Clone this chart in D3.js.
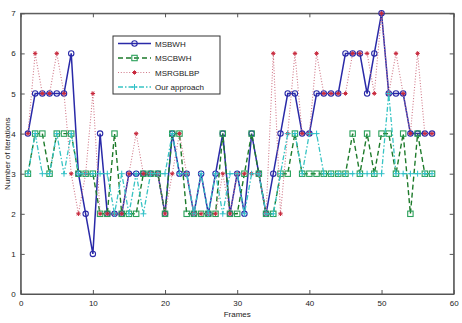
<!DOCTYPE html>
<html>
<head>
<meta charset="utf-8">
<script src="https://cdn.jsdelivr.net/npm/d3@7"></script>
<style>
  html, body { margin: 0; padding: 0; background: #fff; }
  svg { display: block; }
  text { font-family: "Liberation Sans Narrow", "Liberation Sans", Arial, sans-serif; fill: #222; }
</style>
</head>
<body>
<svg id="chart" width="462" height="323"></svg>
<script>
const frames = [1,2,3,4,5,6,7,8,9,10,11,12,13,14,15,16,17,18,19,20,21,22,23,24,25,26,27,28,29,30,31,32,33,34,35,36,37,38,39,40,41,42,43,44,45,46,47,48,49,50,51,52,53,54,55,56,57];
const msbwh    = [4,5,5,5,5,5,6,3,2,1, 4,2,2,2,3,3,3,3,3,2, 4,3,3,2,3,2,3,4,2,3, 2,4,3,2,3,4,5,5,4,4, 5,5,5,5,6,6,6,5,6,7, 5,5,5,4,4,4,4];
const mscbwh   = [3,4,4,3,4,4,4,3,3,3, 2,2,4,2,2,2,3,3,3,2, 4,4,2,2,2,2,2,4,2,2, 3,4,3,2,2,3,3,4,3,3, 3,3,3,3,3,4,3,4,3,4, 4,3,4,2,4,3,3];
const msrgblbp = [4,6,5,5,6,5,3,2,3,5, 2,2,2,2,3,4,3,3,3,2, 3,4,3,2,2,2,2,3,2,3, 3,3,3,2,6,2,4,6,4,4, 6,5,5,5,5,6,6,6,5,7, 5,6,5,4,6,4,4];
const ours     = [3,4,3,3,4,3,4,3,3,3, 3,3,2,3,2,3,2,3,3,3, 4,3,3,2,3,2,3,2,3,3, 2,3,3,2,2,3,4,4,3,4, 4,3,3,3,3,3,3,3,3,3, 5,3,3,3,3,3,3];
const seriesNames = ["MSBWH", "MSCBWH", "MSRGBLBP", "Our approach"];
const xTicks = [0,10,20,30,40,50,60];
const yTicks = [0,1,2,3,4,5,6,7];

const svg = d3.select("#chart");
const L = 20.7, R = 453.7, T = 13.3, B = 294;
const x = d3.scaleLinear().domain([0, 60]).range([L, R]);
const y = d3.scaleLinear().domain([0, 7]).range([B, T]);

svg.append("rect").attr("x", L).attr("y", T).attr("width", R - L).attr("height", B - T)
  .attr("fill", "#fff").attr("stroke", "#555").attr("stroke-width", 1);

const tickLen = 4;
const fmt = d3.format("d");
const axB = svg.append("g").attr("transform", `translate(0,${B})`)
  .call(d3.axisBottom(x).tickValues(xTicks).tickFormat(fmt).tickSizeInner(-tickLen).tickSizeOuter(0).tickPadding(6));
const axT = svg.append("g").attr("transform", `translate(0,${T})`)
  .call(d3.axisTop(x).tickValues(xTicks).tickSizeInner(-tickLen).tickSizeOuter(0).tickFormat(""));
const axL = svg.append("g").attr("transform", `translate(${L},0)`)
  .call(d3.axisLeft(y).tickValues(yTicks).tickFormat(fmt).tickSizeInner(-tickLen).tickSizeOuter(0).tickPadding(5));
const axR = svg.append("g").attr("transform", `translate(${R},0)`)
  .call(d3.axisRight(y).tickValues(yTicks).tickSizeInner(-tickLen).tickSizeOuter(0).tickFormat(""));
[axB, axT, axL, axR].forEach(a => {
  a.select(".domain").attr("stroke", "#555");
  a.selectAll(".tick line").attr("stroke", "#555");
  a.selectAll("text").attr("font-size", 8).attr("fill", "#222")
    .attr("font-family", '"Liberation Sans Narrow", "Liberation Sans", Arial, sans-serif');
});

const styles = [
  { data: msbwh, color: "#2a2aa8", dash: null, width: 1.5, marker: "circle", mcolor: "#2a2aa8" },
  { data: mscbwh, color: "#1d7a2a", dash: "5,3", width: 1.4, marker: "square", mcolor: "#2aa05a" },
  { data: msrgblbp, color: "#d07888", dash: "1,1.8", width: 1.1, marker: "star", mcolor: "#c8283c" },
  { data: ours, color: "#38c4c4", dash: "5,2,1.5,2", width: 1.3, marker: "plus", mcolor: "#30c0c8" }
];

function drawMarker(g, type, cx, cy, c) {
  if (type === "circle") {
    g.append("circle").attr("cx", cx).attr("cy", cy).attr("r", 2.7)
      .attr("fill", "none").attr("stroke", c).attr("stroke-width", 1.1);
  } else if (type === "square") {
    g.append("rect").attr("x", cx - 2.7).attr("y", cy - 2.7).attr("width", 5.4).attr("height", 5.4)
      .attr("fill", "none").attr("stroke", c).attr("stroke-width", 1.1);
  } else if (type === "star") {
    const s = 2.2;
    g.append("path").attr("d",
      `M${cx - s},${cy}L${cx + s},${cy}M${cx},${cy - s}L${cx},${cy + s}M${cx - s * 0.7},${cy - s * 0.7}L${cx + s * 0.7},${cy + s * 0.7}M${cx - s * 0.7},${cy + s * 0.7}L${cx + s * 0.7},${cy - s * 0.7}`)
      .attr("stroke", c).attr("stroke-width", 1).attr("fill", "none");
  } else if (type === "plus") {
    const s = 3;
    g.append("path").attr("d", `M${cx - s},${cy}L${cx + s},${cy}M${cx},${cy - s}L${cx},${cy + s}`)
      .attr("stroke", c).attr("stroke-width", 1).attr("fill", "none");
  }
}

const line = d3.line().x((d, i) => x(frames[i])).y(d => y(d));
styles.forEach(st => {
  const g = svg.append("g");
  g.append("path").datum(st.data).attr("d", line)
    .attr("fill", "none").attr("stroke", st.color).attr("stroke-width", st.width)
    .attr("stroke-dasharray", st.dash);
  st.data.forEach((v, i) => drawMarker(g, st.marker, x(frames[i]), y(v), st.mcolor));
});

const lg = svg.append("g");
lg.append("rect").attr("x", 113).attr("y", 36).attr("width", 107).attr("height", 58)
  .attr("fill", "#fff").attr("stroke", "#333").attr("stroke-width", 1);
const ly = [43.5, 58, 72.5, 87];
styles.forEach((st, i) => {
  lg.append("line").attr("x1", 118).attr("x2", 151).attr("y1", ly[i]).attr("y2", ly[i])
    .attr("stroke", st.color).attr("stroke-width", st.width).attr("stroke-dasharray", st.dash);
  drawMarker(lg, st.marker, 134.5, ly[i], st.mcolor);
  lg.append("text").attr("x", 155).attr("y", ly[i] + 3).attr("font-size", 8).text(seriesNames[i]);
});

svg.append("text").attr("x", (L + R) / 2).attr("y", 317).attr("text-anchor", "middle")
  .attr("font-size", 8).text("Frames");
svg.append("text").attr("transform", `translate(10,${(T + B) / 2}) rotate(-90)`)
  .attr("text-anchor", "middle").attr("font-size", 8).text("Number of Iterations");
</script>
</body>
</html>
